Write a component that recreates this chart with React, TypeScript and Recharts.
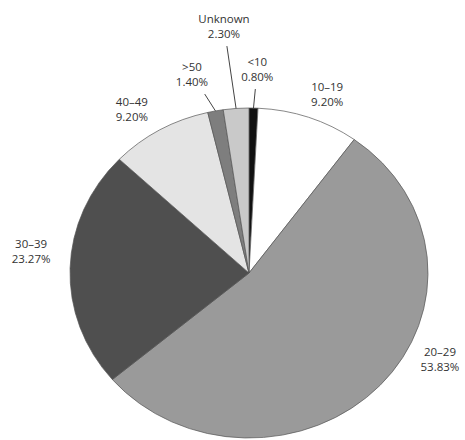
import React from "react";
import { PieChart, Pie, Cell, Sector } from "recharts";

const ageGroups = ["<10", "10–19", "20–29", "30–39", "40–49", ">50", "Unknown"];
const shares = [0.8, 9.2, 53.83, 23.27, 9.2, 1.4, 2.3];
const sliceColors = ["#111111", "#ffffff", "#9a9a9a", "#4f4f4f", "#e4e4e4", "#7e7e7e", "#c9c9c9"];

// label placement: angle shift from slice middle (deg), distance as a share of the radius
const labelShift = [-0.7, -2.6, 16.6, -4.3, 3.6, 4, 1.2];
const labelDist = [1.237, 1.164, 1.19, 1.224, 1.186, 1.247, 1.503];
const withLeader = [true, false, false, false, false, true, true];

const data = ageGroups.map((name, i) => ({ name, value: shares[i] }));

const RAD = Math.PI / 180;
const SX = 179 / 165; // the pie is drawn a little wider than tall

const EllipseSector = (props: any) => {
  const { cx, cy } = props;
  return (
    <g transform={`translate(${cx} ${cy}) scale(${SX} 1) translate(${-cx} ${-cy})`}>
      <Sector {...props} stroke="#555" strokeWidth={0.7} vectorEffect="non-scaling-stroke" />
    </g>
  );
};

const renderLabel = (props: any) => {
  const { cx, cy, midAngle, outerRadius, index } = props;
  const a = (midAngle + labelShift[index]) * RAD;
  const r = outerRadius * labelDist[index];
  const x = cx + r * SX * Math.cos(a);
  const y = cy - r * Math.sin(a);
  let leader = null;
  if (withLeader[index]) {
    const sx = cx + outerRadius * SX * Math.cos(midAngle * RAD);
    const sy = cy - outerRadius * Math.sin(midAngle * RAD);
    const ey = y + 20;
    const ex = sx + (x - sx) * ((sy - ey) / (sy - y));
    leader = <line x1={sx} y1={sy} x2={ex} y2={ey} stroke="#444" strokeWidth={1} />;
  }
  const textProps = {
    textAnchor: "middle" as const,
    fill: "#333",
    fontSize: 11.5,
    fontFamily: "'Open Sans', sans-serif",
  };
  return (
    <g key={`lbl-${index}`}>
      {leader}
      <text x={x} y={y - 3.5} {...textProps}>{ageGroups[index]}</text>
      <text x={x} y={y + 11.5} {...textProps}>{shares[index].toFixed(2) + "%"}</text>
    </g>
  );
};

export default function App() {
  return (
    <div style={{ position: "absolute", left: 0, top: 0, width: 465, height: 440, background: "#fff" }}>
      <PieChart width={465} height={440} margin={{ top: 0, right: 0, bottom: 0, left: 0 }}>
        <Pie
          data={data}
          dataKey="value"
          nameKey="name"
          cx={249}
          cy={273}
          outerRadius={165}
          startAngle={90}
          endAngle={-270}
          shape={EllipseSector}
          label={renderLabel}
          labelLine={false}
          isAnimationActive={false}
        >
          {data.map((d, i) => (
            <Cell key={d.name} fill={sliceColors[i]} />
          ))}
        </Pie>
      </PieChart>
    </div>
  );
}
